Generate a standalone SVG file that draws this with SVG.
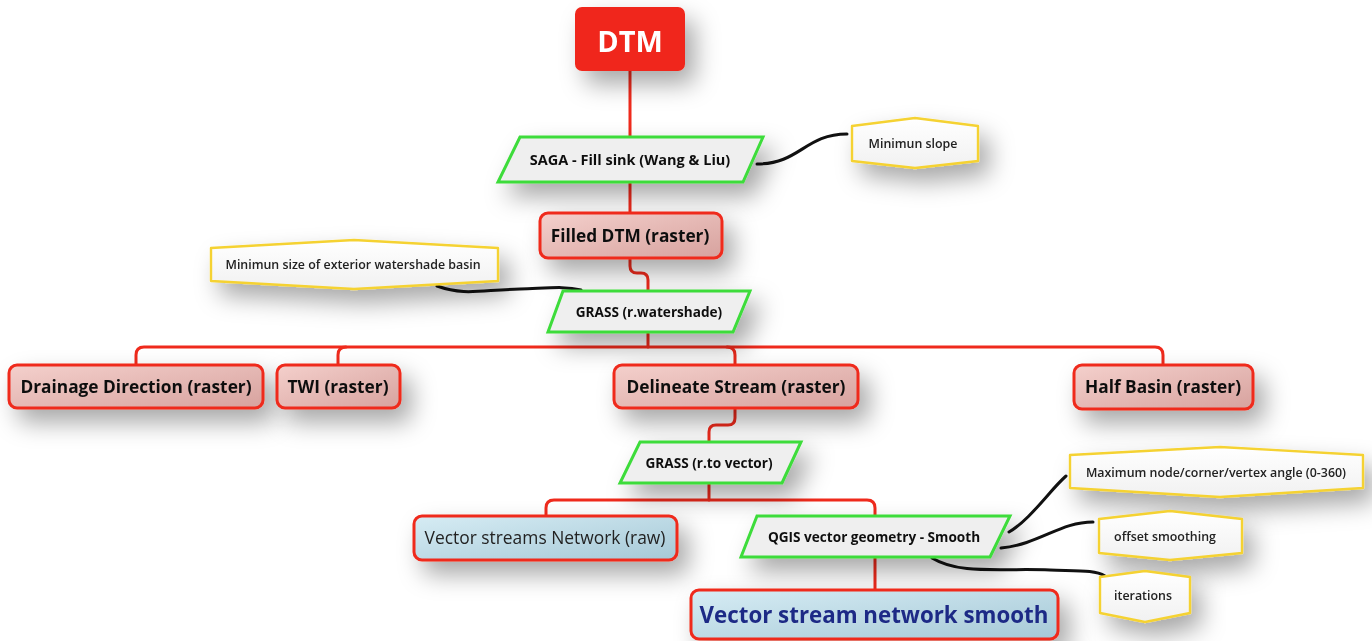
<svg xmlns="http://www.w3.org/2000/svg" width="1372" height="641" viewBox="0 0 1372 641">
<defs>
<filter id="sh" x="-30%" y="-60%" width="170%" height="260%">
<feDropShadow dx="10" dy="13" stdDeviation="12" flood-color="#000" flood-opacity="0.34"/>
</filter>
<linearGradient id="pink" x1="0" y1="0" x2="1" y2="1">
<stop offset="0" stop-color="#f4d0cc"/><stop offset="1" stop-color="#d7a29e"/>
</linearGradient>
<linearGradient id="blue" x1="0" y1="0" x2="1" y2="1">
<stop offset="0" stop-color="#d6ecf4"/><stop offset="1" stop-color="#a6c9d7"/>
</linearGradient>
<linearGradient id="hexg" x1="0" y1="0" x2="0" y2="1">
<stop offset="0" stop-color="#ffffff"/><stop offset="1" stop-color="#f1f1f1"/>
</linearGradient>
</defs>
<style>
.con{fill:none;stroke:#ef2a1c;stroke-width:3;stroke-linecap:round}
.note{fill:none;stroke:#111;stroke-width:3;stroke-linecap:round}
.dtm{fill:#f0281a}
.raster{fill:url(#pink);stroke:#ef2a1c;stroke-width:3}
.vec{fill:url(#blue);stroke:#ef2a1c;stroke-width:3}
.proc{fill:#efefef;stroke:#3ddc3a;stroke-width:3;stroke-linejoin:miter}
.hex{fill:url(#hexg);stroke:#f5d232;stroke-width:2.4;stroke-linejoin:round}
text{font-family:"Open Sans","Liberation Sans",sans-serif;text-anchor:middle;dominant-baseline:central;fill:#111}
.tb{font-weight:700}
.th{font-size:12.4px;font-weight:600;fill:#222}
.r{font-size:17.3px}
.p{font-size:13.6px}
</style>

<g id="connectors">
<path class="con" d="M630,71 V137"/>
<path class="con" d="M630,182 V213"/>
<path class="con" d="M630,258 V266 Q630,273 637,273 H641 Q648,273 648,280 V291"/>
<path class="con" d="M648,332 V347"/>
<path class="con" d="M136,365 V355 Q136,347 144,347 H1155 Q1163,347 1163,355 V365"/>
<path class="con" d="M338,365 V355 Q338,347 346,347"/>
<path class="con" d="M735,365 V355 Q735,347 727,347"/>
<path class="con" d="M735,408 V418 Q735,425 728,425 H716 Q709,425 709,432 V441"/>
<path class="con" d="M709,483 V500"/>
<path class="con" d="M546,516 V508 Q546,500 554,500 H867 Q875,500 875,508 V516"/>
<path class="con" d="M875,557 V590"/>
<path class="note" d="M757,164 C800,164 805,134 847,134"/>
<path class="note" d="M437,286 C465,296 480,290 520,289 C550,288 565,286 581,290"/>
<path class="note" d="M1009,532 C1030,520 1050,490 1066,476"/>
<path class="note" d="M1001,548 C1040,544 1060,522 1093,522"/>
<path class="note" d="M932,558 C960,575 1000,568 1050,570 C1080,571 1095,570 1105,576"/>
</g>

<g id="n-dtm" filter="url(#sh)">
<rect class="dtm" x="575" y="7" width="110" height="64" rx="7"/>
<text x="630" y="40" style="font-size:29px;font-weight:700;fill:#fff">DTM</text>
</g>

<g id="n-saga" filter="url(#sh)">
<polygon class="proc" points="520,137 763,137 743,182 498,182"/>
<text class="tb" x="630" y="159" style="font-size:14.5px">SAGA - Fill sink (Wang &amp; Liu)</text>
</g>

<g id="n-minslope" filter="url(#sh)">
<path class="hex" d="M852,126 L915,118 L978,126 L978,161 L915,168 L852,161 Z"/>
<text class="th" x="913" y="143">Minimun slope</text>
</g>

<g id="n-filled" filter="url(#sh)">
<rect class="raster" x="540" y="213" width="182" height="45" rx="8"/>
<text class="tb r" x="630" y="235">Filled DTM (raster)</text>
</g>

<g id="n-minsize" filter="url(#sh)">
<path class="hex" d="M211,248 L354,240 L498,248 L498,281 L354,289 L211,281 Z"/>
<text class="th" x="353" y="264">Minimun size of exterior watershade basin</text>
</g>

<g id="n-grass1" filter="url(#sh)">
<polygon class="proc" points="563,291 750,291 733,332 548,332"/>
<text class="tb p" x="649" y="311">GRASS (r.watershade)</text>
</g>

<g id="n-drainage" filter="url(#sh)">
<rect class="raster" x="9" y="365" width="254" height="43" rx="8"/>
<text class="tb r" x="136" y="386">Drainage Direction (raster)</text>
</g>

<g id="n-twi" filter="url(#sh)">
<rect class="raster" x="277" y="365" width="123" height="43" rx="8"/>
<text class="tb r" x="338" y="386">TWI (raster)</text>
</g>

<g id="n-delineate" filter="url(#sh)">
<rect class="raster" x="614" y="365" width="244" height="43" rx="8"/>
<text class="tb r" x="736" y="386">Delineate Stream (raster)</text>
</g>

<g id="n-halfbasin" filter="url(#sh)">
<rect class="raster" x="1074" y="365" width="179" height="44" rx="8"/>
<text class="tb r" x="1163" y="386">Half Basin (raster)</text>
</g>

<g id="n-grass2" filter="url(#sh)">
<polygon class="proc" points="640,442 801,442 782,483 620,483"/>
<text class="tb p" x="709" y="462">GRASS (r.to vector)</text>
</g>

<g id="n-raw" filter="url(#sh)">
<rect class="vec" x="414" y="516" width="263" height="44" rx="8"/>
<text x="545" y="537" style="font-size:17.4px;fill:#222">Vector streams Network (raw)</text>
</g>

<g id="n-qgis" filter="url(#sh)">
<polygon class="proc" points="757,516 1010,516 990,557 741,557"/>
<text class="tb p" x="874" y="536">QGIS vector geometry - Smooth</text>
</g>

<g id="n-smooth" filter="url(#sh)">
<rect class="vec" x="691" y="590" width="367" height="49" rx="8"/>
<text class="tb" x="874" y="614" style="font-size:22.3px;fill:#1f2a86">Vector stream network smooth</text>
</g>

<g id="n-maxangle" filter="url(#sh)">
<path class="hex" d="M1070,455 L1220,447 L1363,455 L1363,488 L1220,497 L1070,488 Z"/>
<text class="th" x="1216" y="472">Maximum node/corner/vertex angle (0-360)</text>
</g>

<g id="n-offset" filter="url(#sh)">
<path class="hex" d="M1099,519 L1170,511 L1242,519 L1242,553 L1170,560 L1099,553 Z"/>
<text class="th" x="1165" y="536">offset smoothing</text>
</g>

<g id="n-iter" filter="url(#sh)">
<path class="hex" d="M1100,577 L1145,571 L1190,577 L1190,613 L1145,622 L1100,613 Z"/>
<text class="th" x="1143" y="595">iterations</text>
</g>
</svg>
